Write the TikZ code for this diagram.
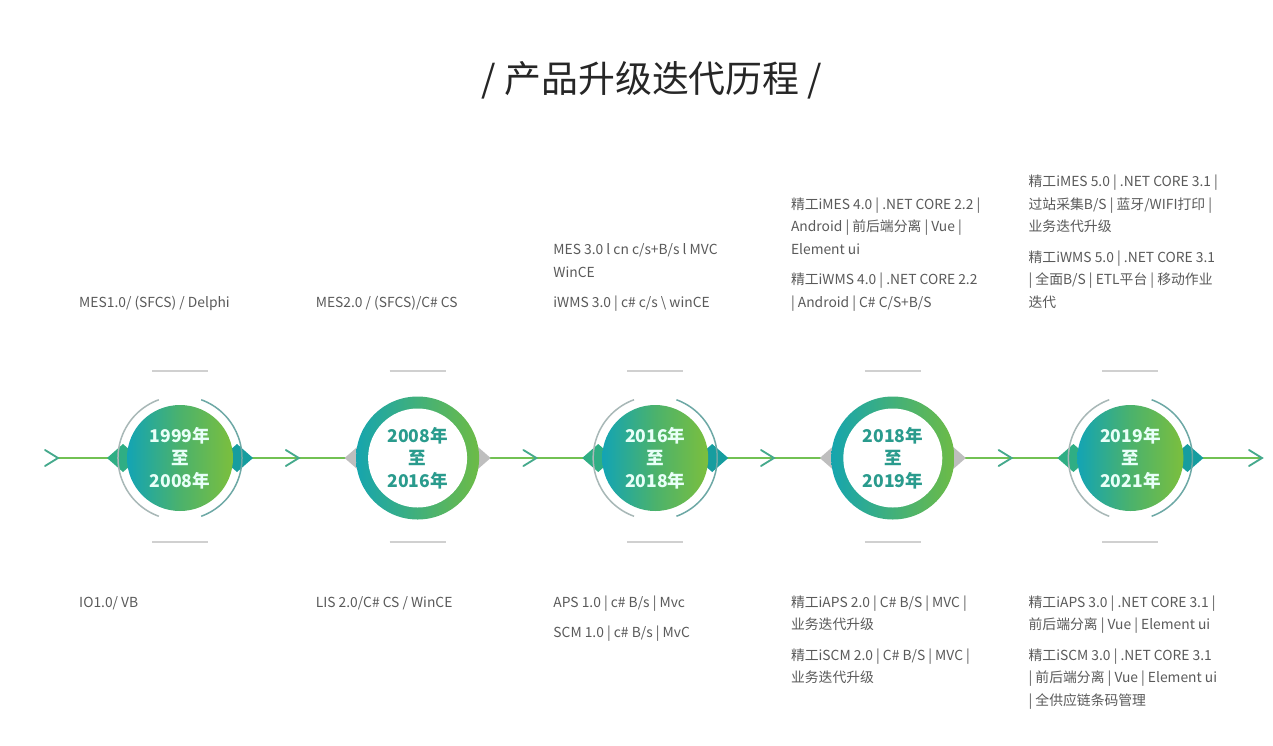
\documentclass[tikz,border=0pt]{standalone}
\usepackage{fontspec}
\setmainfont{Noto Sans CJK SC}
\usetikzlibrary{calc, backgrounds}

\begin{document}
\begin{tikzpicture}[x=0.3mm, y=-0.3mm]
    % Define colors
    \definecolor{lineColour}{HTML}{72C153}
    \definecolor{chevColour}{HTML}{45A98C}
    \definecolor{tealColour}{HTML}{13A4B4}
    \definecolor{midColour}{HTML}{4BB26C}
    \definecolor{greenColour}{HTML}{7CBF3D}
    \definecolor{ringTeal}{HTML}{16A5AE}
    \definecolor{ringGreen}{HTML}{6DBB46}
    \definecolor{textColour}{HTML}{5A5A5A}
    \definecolor{yearColour}{HTML}{2A9B8D}
    \definecolor{yearLight}{HTML}{E8FFF8}
    \definecolor{tickColour}{HTML}{D0D0D0}
    \definecolor{greyTip}{HTML}{BEBEBE}
    \definecolor{leftTip}{HTML}{2FAE84}
    \definecolor{rightTip}{HTML}{169D9F}
    \definecolor{arcLeft}{HTML}{A8B8B7}
    \definecolor{arcRight}{HTML}{6DA8A5}

    % Define styles
    \tikzset{
        axis/.style={draw=lineColour, line width=0.4mm},
        chev/.pic={\draw[chevColour, line width=0.55mm, line cap=round] (-13,-8) -- (0,0) -- (-13,8);},
        yearfill/.style={circle, minimum size=31.8mm, inner sep=0, left color=tealColour, right color=greenColour, middle color=midColour, text=yearLight, align=center, font=\fontsize{15}{19.2}\selectfont\bfseries},
        yearring/.style={circle, minimum size=36.9mm, inner sep=0, left color=ringTeal, right color=ringGreen},
        yearhole/.style={circle, minimum size=29.7mm, inner sep=0, fill=white, text=yearColour, align=center, font=\fontsize{15}{19.2}\selectfont\bfseries},
        info/.style={align=left, inner sep=0, text=textColour, font=\fontsize{11.8}{19.2}\selectfont},
        tick/.style={draw=tickColour, line width=0.45mm},
        outarc/.style={line width=0.45mm}
    }

    % Define axis scale
    \def\startX{180}
    \def\gap{237.6}
    \def\axisY{458}

    \useasboundingbox (0,0) rectangle (1273,745);
    \begin{scope}[on background layer]
        \fill[white] (0,0) rectangle (1273,745);
    \end{scope}

    % Title
    \node[font=\fontsize{31.5}{36}\selectfont, text=black!85] (title) at (652,80) {/ 产品升级迭代历程 /};

    % Draw the filled year circles
    \foreach \i/\a/\b in {1/1999/2008, 3/2016/2018, 5/2019/2021}
        \node[yearfill] (y\i) at ({\startX+(\i-1)*\gap},\axisY) {\a 年\\至\\\b 年};
    % Draw the ring year circles
    \foreach \i/\a/\b in {2/2008/2016, 4/2018/2019} {
        \node[yearring] (y\i) at ({\startX+(\i-1)*\gap},\axisY) {};
        \node[yearhole] (h\i) at (y\i) {\a 年\\至\\\b 年};
    }

    % Outer arcs round the filled circles
    \foreach \i in {1,3,5} {
        \draw[outarc, arcLeft] ([shift={(110:62)}]y\i.center) arc[start angle=110, end angle=250, radius=62];
        \draw[outarc, arcRight] ([shift={(-70:62)}]y\i.center) arc[start angle=-70, end angle=70, radius=62];
    }

    % Short grey ticks above and below
    \foreach \i in {1,...,5} {
        \draw[tick] ($(y\i)+(-28,-87)$) -- ($(y\i)+(28,-87)$);
        \draw[tick] ($(y\i)+(-28,84)$) -- ($(y\i)+(28,84)$);
    }

    % Axis with chevrons and diamond tips
    \coordinate (s0) at (58,\axisY);
    \coordinate (e0) at (1262,\axisY);
    \begin{scope}[on background layer]
        \draw[axis] (s0) -- (y1);
        \foreach \i [evaluate=\i as \j using int(\i+1)] in {1,...,4}
            \draw[axis] (y\i) -- (y\j);
        \draw[axis] (y5) -- (e0);
        \foreach \i in {1,3,5} {
            \fill[leftTip] ($(y\i)+(-73,0)$) -- ++(16,-14) -- ++(16,14) -- ++(-16,14) -- cycle;
            \fill[rightTip] ($(y\i)+(73,0)$) -- ++(-16,-14) -- ++(-16,14) -- ++(16,14) -- cycle;
        }
        \foreach \i in {2,4} {
            \fill[greyTip] ($(y\i)+(-73,0)$) -- ++(16,-14) -- ++(16,14) -- ++(-16,14) -- cycle;
            \fill[greyTip] ($(y\i)+(73,0)$) -- ++(-16,-14) -- ++(-16,14) -- ++(16,14) -- cycle;
        }
    \end{scope}
    \pic at (s0) {chev};
    \foreach \i [evaluate=\i as \j using int(\i+1)] in {1,...,4}
        \pic at ($(y\i)!0.5!(y\j)$) {chev};
    \pic at (e0) {chev};

    % Product texts above the axis
    \node[info, anchor=south west] (t1) at ($(y1)+(-101,-144)$) {MES1.0/ (SFCS) / Delphi\strut};
    \node[info, anchor=south west] (t2) at ($(y2)+(-102,-144)$) {MES2.0 / (SFCS)/C\# CS\strut};
    \node[info, anchor=south west] (t3) at ($(y3)+(-102,-144)$) {\strut MES 3.0 l cn c/s+B/s l MVC\\ WinCE\\[2.2mm] iWMS 3.0 | c\# c/s \textbackslash{} winCE\strut};
    \node[info, anchor=south west] (t4) at ($(y4)+(-102,-144)$) {\strut 精工iMES 4.0 | .NET CORE 2.2 |\\ Android | 前后端分离 | Vue |\\ Element ui\\[2.4mm] 精工iWMS 4.0 | .NET CORE 2.2\\ | Android | C\# C/S+B/S\strut};
    \node[info, anchor=south west] (t5) at ($(y5)+(-102,-144)$) {\strut 精工iMES 5.0 | .NET CORE 3.1 |\\ 过站采集B/S | 蓝牙/WIFI打印 |\\ 业务迭代升级\\[2.4mm] 精工iWMS 5.0 | .NET CORE 3.1\\ | 全面B/S | ETL平台 | 移动作业\\ 迭代\strut};

    % Product texts below the axis
    \node[info, anchor=north west] (b1) at ($(y1)+(-101,133.5)$) {\strut IO1.0/ VB};
    \node[info, anchor=north west] (b2) at ($(y2)+(-102,133.5)$) {\strut LIS 2.0/C\# CS / WinCE};
    \node[info, anchor=north west] (b3) at ($(y3)+(-102,133.5)$) {\strut APS 1.0 | c\# B/s | Mvc\\[2.4mm] SCM 1.0 | c\# B/s | MvC\strut};
    \node[info, anchor=north west] (b4) at ($(y4)+(-102,133.5)$) {\strut 精工iAPS 2.0 | C\# B/S | MVC |\\ 业务迭代升级\\[2.4mm] 精工iSCM 2.0 | C\# B/S | MVC |\\ 业务迭代升级\strut};
    \node[info, anchor=north west] (b5) at ($(y5)+(-102,133.5)$) {\strut 精工iAPS 3.0 | .NET CORE 3.1 |\\ 前后端分离 | Vue | Element ui\\[2.4mm] 精工iSCM 3.0 | .NET CORE 3.1\\ | 前后端分离 | Vue | Element ui\\ | 全供应链条码管理\strut};

\end{tikzpicture}
\end{document}
